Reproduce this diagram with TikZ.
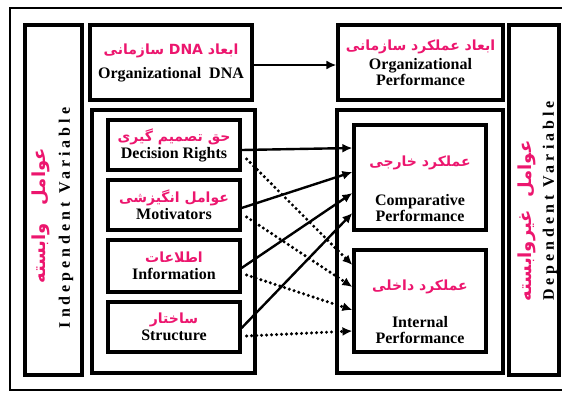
\documentclass[tikz,border=0pt]{standalone}
\usepackage{fontspec}
\setmainfont{Liberation Serif}
\newfontfamily\farsifont[Script=Arabic]{DejaVu Sans}
\TeXXeTstate=1
\usetikzlibrary{arrows.meta,calc}

\definecolor{farsipink}{RGB}{236,22,110}
\newcommand{\fa}[1]{{\farsifont\bfseries\fontsize{14}{16}\selectfont\color{farsipink}\beginR #1\endR}}
\newcommand{\fabig}[1]{{\farsifont\bfseries\fontsize{18}{20}\selectfont\color{farsipink}\beginR #1\endR}}
\newcommand{\spaced}{\addfontfeatures{LetterSpace=25}}

\tikzset{
  box/.style={draw, line width=3.2pt, rectangle, align=center, inner sep=0pt},
  entext/.style={font=\bfseries\fontsize{16}{16}\selectfont, align=center},
  solidarrow/.style={line width=2.4pt, -{Latex[length=10pt,width=9pt]}},
  dotarrow/.style={line width=3.4pt, line cap=round, dash pattern=on 0pt off 5pt, -{Latex[length=10pt,width=9pt]}},
}

\begin{document}
\begin{tikzpicture}[x=1pt,y=-1pt]
\useasboundingbox (0,0) rectangle (562,394);

% draw frame
\draw[line width=2.6pt] (575,8) -- (10,8) -- (10,390) -- (575,390);

% draw side boxes
\node[box, minimum width=57, minimum height=350] (indep) at (53.5,200) {};
\node[box, minimum width=50, minimum height=350] (dep) at (534,200) {};
\node[rotate=90] (indepfa) at (41,216) {\fabig{عوامل\quad وابسته}};
\node[rotate=90, entext] (indepen) at (66,218) {\spaced Independent Variable};
\node[rotate=90] (depfa) at (527,221) {\fabig{عوامل\ \ غیروابسته}};
\node[rotate=90, entext] (depen) at (550,201) {\spaced Dependent Variable};

% draw top boxes
\node[box, entext, minimum width=162, minimum height=75] (dna) at (171,62.5)
  {\fa{ابعاد \beginL DNA\endL{} سازمانی}\\[8pt] Organizational~~DNA};
\node[box, entext, minimum width=165, minimum height=75] (orgperf) at (420.5,62.5)
  {\fa{ابعاد عملکرد سازمانی}\\[3pt] Organizational\\ Performance};

% draw containers
\node[box, minimum width=163, minimum height=263] (leftcont) at (173.5,241.5) {};
\node[box, minimum width=166, minimum height=263] (rightcont) at (420,241.5) {};

% draw dimensions
\node[box, entext, minimum width=132, minimum height=50] (dec) at (174,145)
  {\fa{حق تصمیم گیری}\\[1pt] Decision Rights};
\node[box, entext, minimum width=132, minimum height=50] (mot) at (174,205)
  {\fa{عوامل انگیزشی}\\[1pt] Motivators};
\node[box, entext, minimum width=132, minimum height=52] (inf) at (174,266)
  {\fa{اطلاعات}\\[1pt] Information};
\node[box, entext, minimum width=132, minimum height=50] (str) at (174,327)
  {\fa{ساختار}\\[1pt] Structure};

% draw performance
\node[box, minimum width=132, minimum height=105] (comp) at (420,177.5) {};
\node (compfa) at (420,163) {\fa{عملکرد خارجی}};
\node[entext] (compen) at (420,208) {Comparative\\ Performance};
\node[box, minimum width=132, minimum height=102] (intl) at (420,301) {};
\node (intlfa) at (420,287) {\fa{عملکرد داخلی}};
\node[entext] (intlen) at (420,330) {Internal\\ Performance};

% draw arrows
\draw[solidarrow] ($(dna.east)+(0,2.5)$) -- ($(orgperf.west)+(0,2.5)$);

\draw[solidarrow] ($(dec.east)+(0,5)$) -- ($(comp.west)+(0,-29.5)$);
\draw[solidarrow] ($(mot.east)+(0,3)$) -- ($(comp.west)+(0,-5.5)$);
\draw[solidarrow] ($(inf.east)+(0,2)$) -- ($(comp.west)+(0,15.5)$);
\draw[solidarrow] ($(str.east)+(0,1)$) -- ($(comp.west)+(0,35.5)$);

\draw[dotarrow] ($(dec.east)+(5,14)$) -- ($(intl.west)+(0,-36)$);
\draw[dotarrow] ($(mot.east)+(5,12)$) -- ($(intl.west)+(0,-14)$);
\draw[dotarrow] ($(inf.east)+(5,9)$) -- ($(intl.west)+(0,9)$);
\draw[dotarrow] ($(str.east)+(5,9)$) -- ($(intl.west)+(0,30)$);

\end{tikzpicture}
\end{document}
